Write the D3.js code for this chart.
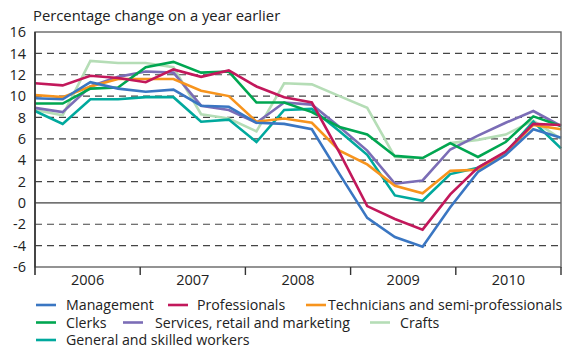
<!DOCTYPE html>
<html>
<head>
<meta charset="utf-8">
<script src="https://cdn.jsdelivr.net/npm/d3@7"></script>
<style>
  body { margin:0; background:#fff; }
  text { font-family:"Open Sans", sans-serif; fill:#222; }
</style>
</head>
<body>
<div id="chart"></div>
<script>
// quarterly points, 2006 Q1 .. 2010 Q4
const years = ["2006","2007","2008","2009","2010"]
const yTicks = [-6,-4,-2,0,2,4,6,8,10,12,14,16]
const seriesNames = ["Management","Professionals","Technicians and semi-professionals","Clerks","Services, retail and marketing","Crafts","General and skilled workers"]

const management    = [9.8, 9.7, 11.3, 10.7, 10.4, 10.6, 9.1, 9.0, 7.5, 7.4, 6.9, 2.7, -1.4, -3.2, -4.1, -0.4, 2.9, 4.5, 6.9, 6.1]
const professionals = [11.2, 11.0, 11.9, 11.7, 11.3, 12.5, 11.8, 12.4, 10.9, 9.9, 9.4, 4.7, -0.3, -1.5, -2.5, 0.8, 3.3, 4.8, 7.4, 7.3]
const technicians   = [10.1, 9.9, 10.9, 11.6, 11.6, 11.6, 10.5, 10.0, 7.6, 7.9, 7.5, 4.9, 3.6, 1.6, 0.9, 3.0, 3.1, 4.7, 7.3, 6.9]
const clerks        = [9.3, 9.3, 10.7, 10.8, 12.7, 13.2, 12.2, 12.3, 9.4, 9.4, 8.5, 7.1, 6.4, 4.4, 4.2, 5.6, 4.3, 5.7, 8.1, 7.2]
const services      = [8.9, 8.5, 10.9, 11.8, 12.3, 12.2, 9.1, 8.7, 7.5, 9.4, 9.2, 7.1, 4.9, 1.8, 2.1, 5.0, 6.3, 7.5, 8.6, 7.2]
const crafts        = [8.7, 8.2, 13.3, 13.1, 13.1, 12.7, 8.3, 7.9, 6.7, 11.2, 11.1, 10.0, 8.9, 4.3, 4.2, 5.6, 5.9, 6.4, 7.7, 6.0]
const general       = [8.6, 7.4, 9.7, 9.7, 9.9, 9.9, 7.6, 7.8, 5.7, 8.7, 8.8, 6.7, 4.5, 0.7, 0.2, 2.7, 3.3, 4.7, 7.6, 5.1]

const colors = ["#3a76c2","#c2185b","#f7941d","#00a651","#7b6db6","#b5ddb6","#00a99d"]
const values = [management, professionals, technicians, clerks, services, crafts, general]

function render(){
  let width = 568, height = 349,
      margin = {top:32, left:35, right:7, bottom:82},
      innerW = width - margin.left - margin.right,
      innerH = height - margin.top - margin.bottom,
      fs = "14.5px"

  const svg = d3.select("#chart").append("svg")
    .attr("width", width).attr("height", height)

  const n = management.length
  const x = d3.scaleLinear().domain([0, n-1]).range([margin.left, margin.left+innerW])
  const xYear = d3.scaleBand().domain(years).range([margin.left, margin.left+innerW])
  const y = d3.scaleLinear().domain([-6,16]).range([margin.top+innerH, margin.top])

  svg.append("text").attr("x",33).attr("y",21).text("Percentage change on a year earlier")
    .style("font-size","14.8px")

  // dashed grid
  svg.append("g").selectAll("line")
    .data(yTicks.filter(d => d>-6 && d<16 && d!==0))
    .enter().append("line")
    .attr("x1", margin.left).attr("x2", margin.left+innerW)
    .attr("y1", d=>y(d)).attr("y2", d=>y(d))
    .attr("stroke","#444").attr("stroke-width",1.2).attr("stroke-dasharray","7,5")

  svg.append("line")
    .attr("x1", margin.left).attr("x2", margin.left+innerW)
    .attr("y1", y(0)).attr("y2", y(0))
    .attr("stroke","#111").attr("stroke-width",1)

  // lines, crafts underneath
  const line = d3.line().x((d,i)=>x(i)).y(d=>y(d))
  const order = [5,6,4,2,3,1,0]
  svg.append("g").selectAll("path")
    .data(order)
    .enter().append("path")
    .attr("d", k=>line(values[k]))
    .attr("fill","none")
    .attr("stroke", k=>colors[k])
    .attr("stroke-width",2.6)

  // frame
  svg.append("rect")
    .attr("x", margin.left).attr("y", margin.top)
    .attr("width", innerW).attr("height", innerH)
    .attr("fill","none").attr("stroke","#666").attr("stroke-width",1.4)
  svg.append("line")
    .attr("x1", margin.left).attr("x2", margin.left)
    .attr("y1", margin.top).attr("y2", margin.top+innerH+8)
    .attr("stroke","#333").attr("stroke-width",1.6)

  // y axis labels (plain hyphen for negatives)
  const yAxis = d3.axisLeft(y).tickValues(yTicks).tickFormat(d=>String(d)).tickSize(0).tickPadding(9)
  const yGroup = svg.append("g").attr("transform",`translate(${margin.left},0)`).call(yAxis)
  yGroup.select(".domain").remove()
  yGroup.selectAll("text").style("font-size",fs).style("font-family","Open Sans").attr("fill","#222")

  // year ticks + labels
  const bounds = years.map(d=>xYear(d)).concat([margin.left+innerW])
  svg.append("g").selectAll("line").data(bounds.slice(1))
    .enter().append("line")
    .attr("x1", d=>d).attr("x2", d=>d)
    .attr("y1", margin.top+innerH).attr("y2", margin.top+innerH+8)
    .attr("stroke","#333").attr("stroke-width",1.4)
  const xAxis = d3.axisBottom(xYear).tickSize(0).tickPadding(8)
  const xGroup = svg.append("g").attr("transform",`translate(0,${margin.top+innerH})`).call(xAxis)
  xGroup.select(".domain").remove()
  xGroup.selectAll("text").style("font-size",fs).style("font-family","Open Sans").attr("fill","#222")

  // legend
  const legendPos = [
    {sx:36, tx:66, y:305}, {sx:168, tx:197, y:305}, {sx:306, tx:328, y:305},
    {sx:36, tx:66, y:322.5}, {sx:123, tx:155, y:322.5}, {sx:370, tx:400, y:322.5},
    {sx:36, tx:66, y:340}
  ]
  const lg = svg.append("g").selectAll("g").data(seriesNames).enter().append("g")
  lg.append("line")
    .attr("x1",(d,i)=>legendPos[i].sx).attr("x2",(d,i)=>legendPos[i].sx+20)
    .attr("y1",(d,i)=>legendPos[i].y).attr("y2",(d,i)=>legendPos[i].y)
    .attr("stroke",(d,i)=>colors[i]).attr("stroke-width",2.6)
  lg.append("text")
    .attr("x",(d,i)=>legendPos[i].tx).attr("y",(d,i)=>legendPos[i].y+5)
    .text(d=>d).style("font-size","14.2px")
}

render()
</script>
</body>
</html>
